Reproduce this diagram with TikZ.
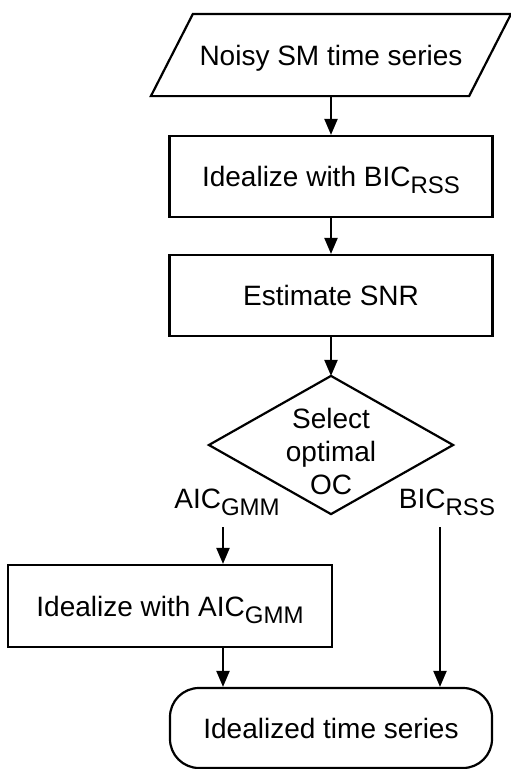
\documentclass[tikz,border=0pt]{standalone}
\usepackage{fontspec}
\setmainfont{Liberation Sans}
\usetikzlibrary{arrows.meta}
\newcommand\lowsub[1]{\raisebox{-7pt}{\fontsize{24}{24}\selectfont #1}}
\begin{document}
\begin{tikzpicture}[x=1pt,y=-1pt,
  line width=2.2pt,
  font=\fontsize{28}{33}\selectfont,
  lbl/.style={text height=20pt,text depth=0pt,inner sep=0pt},
  procbox/.style={draw,rectangle,lbl},
  flow/.style={-{Triangle[length=16pt,width=13pt]}}]
\useasboundingbox (0,0) rectangle (511,769);

% input (parallelogram drawn around an invisible box)
\node[lbl,minimum width=316pt,minimum height=80pt] (in) at (331,55) {Noisy SM time series};
\draw ([xshift=21pt]in.north west) -- ([xshift=21pt]in.north east)
   -- ([xshift=-21pt]in.south east) -- ([xshift=-21pt]in.south west) -- cycle;

\node[procbox,minimum width=323pt,minimum height=81pt] (b1) at (331,176.5) {Idealize with BIC\lowsub{RSS}};
\node[procbox,minimum width=323pt,minimum height=81pt] (b2) at (331,295.5) {Estimate SNR};

% decision
\node[minimum width=242pt,minimum height=136pt,inner sep=0pt] (dec) at (331,445) {};
\draw (dec.north) -- (dec.east) -- (dec.south) -- (dec.west) -- cycle;
\node[align=center,inner sep=0pt] (dectext) at (331,451) {Select\\optimal\\OC};

\node[lbl,anchor=base] (lblA) at (227,508) {AIC\lowsub{GMM}};
\node[lbl,anchor=base] (lblB) at (447,508) {BIC\lowsub{RSS}};
\coordinate (la) at (223,527);
\coordinate (ra) at (440,527);

\node[procbox,minimum width=324pt,minimum height=82pt] (b3) at (170,606) {Idealize with AIC\lowsub{GMM}};
\node[draw,lbl,rounded corners=29pt,minimum width=322pt,minimum height=80pt] (term) at (331,728) {Idealized time series};

% connectors
\draw[flow] (in.south) -- (b1.north);
\draw[flow] (b1.south) -- (b2.north);
\draw[flow] (b2.south) -- (dec.north);
\draw[flow] (la) -- (la |- b3.north);
\draw[flow] (la |- b3.south) -- (la |- term.north);
\draw[flow] (ra) -- (ra |- term.north);
\end{tikzpicture}
\end{document}
